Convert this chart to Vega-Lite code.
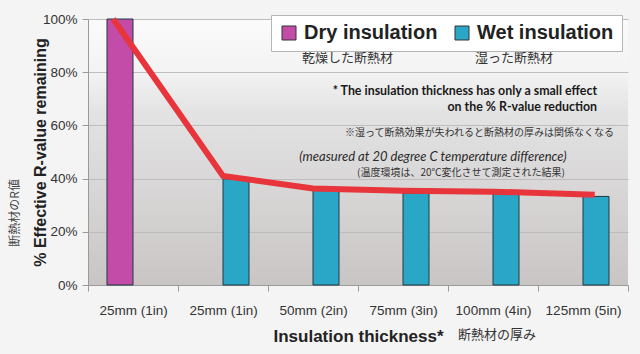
{
  "$schema": "https://vega.github.io/schema/vega-lite/v6.json",
  "width": 540,
  "height": 266,
  "autosize": "none",
  "padding": {"left": 88, "top": 19, "right": 12, "bottom": 69},
  "background": "#f4f4f4",
  "config": {
    "view": {"stroke": null, "fill": {"gradient": "linear", "x1": 0, "y1": 0, "x2": 0, "y2": 1, "stops": [{"offset": 0, "color": "#fbfbfb"}, {"offset": 0.2, "color": "#f3f3f3"}, {"offset": 0.35, "color": "#e3e3e3"}, {"offset": 1, "color": "#cac5c5"}]}},
    "axis": {"labelFont": "Liberation Sans", "labelColor": "#333", "labelFontSize": 13.5, "gridColor": "#bdbdbd", "domainColor": "#9a9a9a", "tickColor": "#9a9a9a"}
  },
  "datasets": {
    "bars": [
      {"cat": "1|25mm (1in)", "series": "Dry insulation", "v": 100},
      {"cat": "2|25mm (1in)", "series": "Wet insulation", "v": 39.9},
      {"cat": "3|50mm (2in)", "series": "Wet insulation", "v": 35.5},
      {"cat": "4|75mm (3in)", "series": "Wet insulation", "v": 34.5},
      {"cat": "5|100mm (4in)", "series": "Wet insulation", "v": 34.2},
      {"cat": "6|125mm (5in)", "series": "Wet insulation", "v": 33.3}
    ],
    "line": [
      {"pos": 0.28, "v": 100},
      {"pos": 1.5, "v": 41.0},
      {"pos": 2.5, "v": 36.3},
      {"pos": 3.5, "v": 35.4},
      {"pos": 4.5, "v": 35.1},
      {"pos": 5.63, "v": 33.9}
    ],
    "notes": [
      {"kind": "head", "pos": 5.656, "v": 73.1, "text": "* The insulation thickness has only a small effect"},
      {"kind": "head", "pos": 5.656, "v": 67.0, "text": "on the % R-value reduction"},
      {"kind": "jpright", "pos": 5.844, "v": 57.25, "text": "※湿って断熱効果が失われると断熱材の厚みは関係なくなる"},
      {"kind": "italic", "pos": 3.833, "v": 48.2, "text": "(measured at 20 degree C temperature difference)"},
      {"kind": "jpcenter", "pos": 4.144, "v": 42.2, "text": "(温度環境は、20℃変化させて測定された結果)"},
      {"kind": "jpleft", "pos": 2.378, "v": 85.5, "text": "乾燥した断熱材"},
      {"kind": "jpleft", "pos": 4.3, "v": 85.5, "text": "湿った断熱材"},
      {"kind": "jpleft", "pos": 4.11, "v": -18.8, "text": "断熱材の厚み"},
      {"kind": "jpy", "pos": -0.81, "v": 27.1, "text": "断熱材のR値"}
    ]
  },
  "resolve": {"scale": {"x": "independent"}},
  "layer": [
    {
      "data": {"name": "bars"},
      "mark": {"type": "bar", "stroke": "#1f3a42", "strokeWidth": 1},
      "encoding": {
        "x": {
          "field": "cat", "type": "nominal",
          "scale": {"paddingInner": 0, "paddingOuter": 0},
          "axis": {
            "labelExpr": "split(datum.value, '|')[1]",
            "labelAngle": 0, "tickBand": "extent", "tickSize": 6, "labelPadding": 12,
            "title": "Insulation thickness*", "titleFont": "Liberation Sans", "titleFontSize": 17,
            "titleFontWeight": "bold", "titleColor": "#222", "titleBaseline": "middle", "titleY": 51
          }
        },
        "xOffset": {"field": "series", "type": "nominal", "scale": {"paddingInner": 0, "paddingOuter": 0.73}},
        "y": {
          "field": "v", "type": "quantitative",
          "scale": {"domain": [0, 100], "nice": false},
          "axis": {
            "values": [0, 20, 40, 60, 80, 100], "labelExpr": "datum.value + '%'",
            "tickSize": 6, "labelPadding": 5, "grid": true,
            "title": "% Effective R-value remaining", "titleFont": "Liberation Sans", "titleFontSize": 16,
            "titleFontWeight": "bold", "titleColor": "#222", "titleX": -48, "titleBaseline": "middle"
          }
        },
        "color": {
          "field": "series", "type": "nominal",
          "scale": {"domain": ["Dry insulation", "Wet insulation"], "range": ["#c24ca8", "#2aa7c6"]},
          "legend": {
            "orient": "none", "legendX": 183, "legendY": -4, "direction": "horizontal", "title": null,
            "labelFont": "Liberation Sans", "labelFontSize": 20, "labelFontWeight": "bold", "labelColor": "#222",
            "symbolType": "square", "symbolSize": 196, "symbolStrokeColor": "#333", "symbolStrokeWidth": 1,
            "symbolOpacity": 1, "labelOffset": 5, "columnPadding": 14,
            "padding": 8, "strokeColor": "#b5b5b5", "fillColor": "#ffffff"
          }
        }
      }
    },
    {
      "data": {"name": "line"},
      "mark": {"type": "line", "color": "#e8353b", "strokeWidth": 6, "strokeJoin": "miter"},
      "encoding": {
        "x": {"field": "pos", "type": "quantitative", "scale": {"domain": [0, 6], "nice": false, "zero": false}, "axis": null},
        "y": {"field": "v", "type": "quantitative"}
      }
    },
    {
      "data": {"name": "notes"},
      "transform": [{"filter": "datum.kind === 'head'"}],
      "mark": {"type": "text", "align": "right", "baseline": "middle", "font": "Lato", "fontSize": 12.4, "fontWeight": "bold", "color": "#1a1a1a"},
      "encoding": {
        "x": {"field": "pos", "type": "quantitative", "scale": {"domain": [0, 6], "nice": false, "zero": false}, "axis": null},
        "y": {"field": "v", "type": "quantitative"},
        "text": {"field": "text"}
      }
    },
    {
      "data": {"name": "notes"},
      "transform": [{"filter": "datum.kind === 'italic'"}],
      "mark": {"type": "text", "align": "center", "baseline": "middle", "font": "Lato", "fontSize": 13, "fontStyle": "italic", "color": "#2a2a2a"},
      "encoding": {
        "x": {"field": "pos", "type": "quantitative", "scale": {"domain": [0, 6], "nice": false, "zero": false}, "axis": null},
        "y": {"field": "v", "type": "quantitative"},
        "text": {"field": "text"}
      }
    },
    {
      "data": {"name": "notes"},
      "transform": [{"filter": "datum.kind === 'jpright'"}],
      "mark": {"type": "text", "align": "right", "baseline": "middle", "font": "Noto Sans CJK JP", "fontSize": 10, "color": "#333"},
      "encoding": {
        "x": {"field": "pos", "type": "quantitative", "scale": {"domain": [0, 6], "nice": false, "zero": false}, "axis": null},
        "y": {"field": "v", "type": "quantitative"},
        "text": {"field": "text"}
      }
    },
    {
      "data": {"name": "notes"},
      "transform": [{"filter": "datum.kind === 'jpcenter'"}],
      "mark": {"type": "text", "align": "center", "baseline": "middle", "font": "Noto Sans CJK JP", "fontSize": 10, "color": "#333"},
      "encoding": {
        "x": {"field": "pos", "type": "quantitative", "scale": {"domain": [0, 6], "nice": false, "zero": false}, "axis": null},
        "y": {"field": "v", "type": "quantitative"},
        "text": {"field": "text"}
      }
    },
    {
      "data": {"name": "notes"},
      "transform": [{"filter": "datum.kind === 'jpleft'"}],
      "mark": {"type": "text", "align": "left", "baseline": "middle", "font": "Noto Sans CJK JP", "fontSize": 13, "color": "#333"},
      "encoding": {
        "x": {"field": "pos", "type": "quantitative", "scale": {"domain": [0, 6], "nice": false, "zero": false}, "axis": null},
        "y": {"field": "v", "type": "quantitative"},
        "text": {"field": "text"}
      }
    },
    {
      "data": {"name": "notes"},
      "transform": [{"filter": "datum.kind === 'jpy'"}],
      "mark": {"type": "text", "align": "center", "baseline": "middle", "angle": 270, "font": "Noto Sans CJK JP", "fontSize": 12, "color": "#444"},
      "encoding": {
        "x": {"field": "pos", "type": "quantitative", "scale": {"domain": [0, 6], "nice": false, "zero": false}, "axis": null},
        "y": {"field": "v", "type": "quantitative"},
        "text": {"field": "text"}
      }
    }
  ]
}
